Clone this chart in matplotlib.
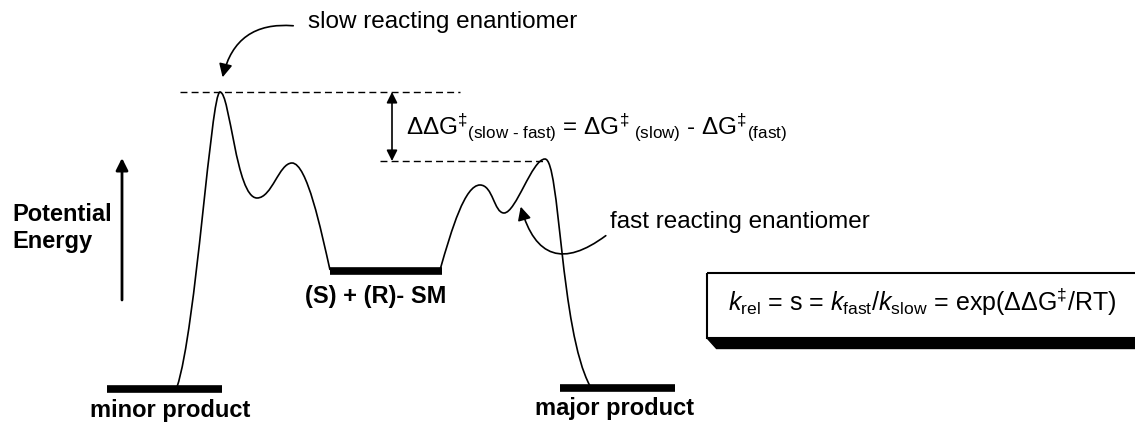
import numpy as np
import matplotlib.pyplot as plt
from matplotlib.path import Path
from matplotlib.patches import PathPatch, FancyArrowPatch, Rectangle, Polygon

plt.rcParams['font.family'] = ['Liberation Sans', 'DejaVu Sans']
plt.rcParams['mathtext.fontset'] = 'custom'
plt.rcParams['mathtext.rm'] = 'Liberation Sans'
plt.rcParams['mathtext.it'] = 'Liberation Sans:italic'

# energy levels (bars): name, x-start, x-end, y (pixel space, y down)
level_names = ['minor product', '(S) + (R)- SM', 'major product']
level_x0 = [107, 330, 560]
level_x1 = [222, 442, 675]
level_y = [389, 271, 388]
label_x = [170, 376, 615]
label_y = [410, 296, 408]

# reaction path to minor product (cubic bezier nodes + controls)
slow_path = [(177, 387), (196, 330), (211, 92), (220, 92),
             (230, 92), (236, 198), (257, 198),
             (272, 198), (279, 163), (292, 163),
             (307, 163), (321, 230), (330, 270)]
# reaction path to major product
fast_path = [(440, 270), (452, 228), (465, 185), (480, 185),
             (493, 185), (494, 213), (504, 213),
             (516, 213), (532, 159), (545, 159),
             (560, 159), (560, 330), (590, 386)]

slow_ts = 92
fast_ts = 161

fig = plt.figure(figsize=(11.35, 4.23), dpi=100)
ax = fig.add_axes([0, 0, 1, 1])
ax.set_xlim(0, 1135)
ax.set_ylim(423, 0)
ax.axis('off')

for pts in [slow_path, fast_path]:
    codes = [Path.MOVETO] + [Path.CURVE4] * (len(pts) - 1)
    ax.add_patch(PathPatch(Path(pts, codes), fill=False, lw=1.2, color='black'))

for name, x0, x1, y, lx, ly in zip(level_names, level_x0, level_x1, level_y, label_x, label_y):
    ax.plot([x0, x1], [y, y], color='black', lw=5.5, solid_capstyle='butt')
    ax.text(lx, ly, name, ha='center', va='center', fontsize=17, fontweight='bold')

# dashed reference lines
ax.plot([180, 460], [slow_ts, slow_ts], color='black', lw=1, ls=(0, (5, 3)))
ax.plot([380, 545], [fast_ts, fast_ts], color='black', lw=1, ls=(0, (5, 3)))

# double arrow for ddG
ax.add_patch(FancyArrowPatch((392, fast_ts), (392, slow_ts), arrowstyle='<|-|>',
                             mutation_scale=16, lw=1.2, color='black', shrinkA=0, shrinkB=0))
ax.text(406, 127,
        r'ΔΔG$^{‡}$$_{\text{(slow - fast)}}$ = ΔG$^{‡}$$_{\text{ (slow)}}$ - ΔG$^{‡}$$_{\text{(fast)}}$',
        fontsize=17.5, va='center', ha='left')

# potential energy axis arrow
ax.add_patch(FancyArrowPatch((122, 300), (122, 158), arrowstyle='-|>',
                             mutation_scale=18, lw=2, color='black', shrinkA=0, shrinkB=0))
ax.text(12, 228, 'Potential\nEnergy', fontsize=17, fontweight='bold', va='center',
        ha='left', linespacing=1.2)

# annotations
ax.text(308, 22, 'slow reacting enantiomer', fontsize=17.5, va='center', ha='left')
ax.add_patch(FancyArrowPatch((296, 26), (222, 80), connectionstyle='arc3,rad=0.45',
                             arrowstyle='-|>', mutation_scale=20, lw=1.2, color='black'))
ax.text(610, 222, 'fast reacting enantiomer', fontsize=17.5, va='center', ha='left')
ax.add_patch(FancyArrowPatch((608, 234), (520, 204), connectionstyle='arc3,rad=-0.75',
                             arrowstyle='-|>', mutation_scale=20, lw=1.2, color='black'))

# relation box with shadow
ax.add_patch(Rectangle((707, 273), 440, 65, fill=False, lw=1.5, color='black'))
ax.add_patch(Polygon([(707, 338), (1140, 338), (1140, 348), (716, 348)],
                     closed=True, color='black'))
ax.text(728, 302, r'$k_{\rm rel}$ = s = $k_{\rm fast}$/$k_{\rm slow}$ = exp(ΔΔG$^{‡}$/RT)',
        fontsize=18, va='center', ha='left')

fig.savefig('out.png', dpi=100)
